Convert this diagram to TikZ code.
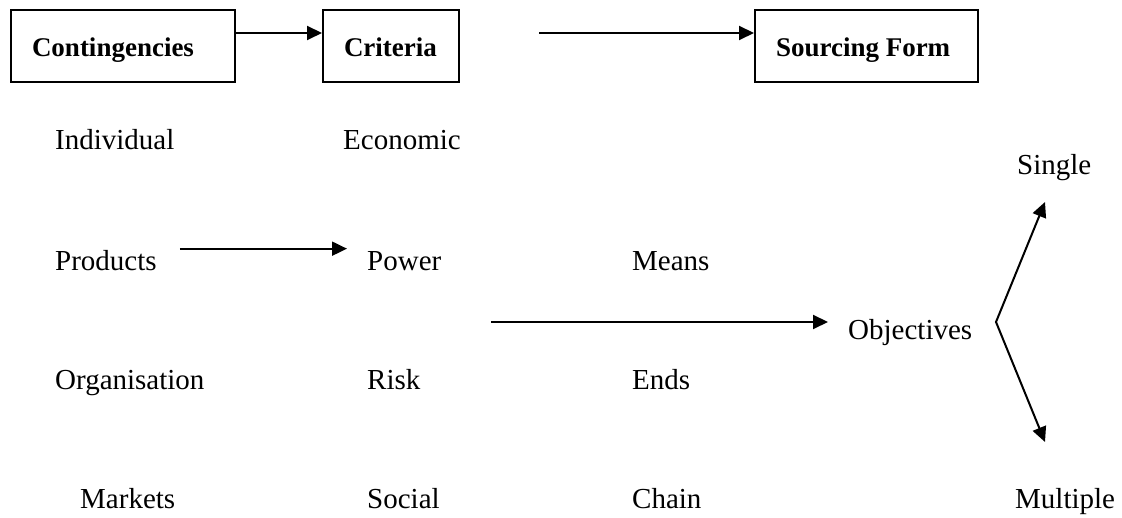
\documentclass[tikz,border=0pt]{standalone}
\usepackage{fontspec}
\setmainfont{Liberation Serif}
\usetikzlibrary{arrows.meta,positioning}
\tikzset{
	flow/.style={
		-{Triangle[length=15pt,width=14pt]},
		line width=2pt
	},
	fork/.style={
		{Triangle[length=15pt,width=14pt]}-{Triangle[length=15pt,width=14pt]},
		line width=2pt
	}
}
\newcommand{\stagetext}[2]{\makebox[#1][l]{#2}}
\begin{document}
\begin{tikzpicture}[x=1pt,y=-1pt]

	\useasboundingbox (0,0) rectangle (1122,518);

	\begin{scope}[
		stage/.style={draw, line width=2pt, minimum height=72pt, inner xsep=21pt,
			text height=22pt, text depth=0pt,
			font=\bfseries\fontsize{27}{32}\selectfont},
		item/.style={anchor=base west, inner sep=0, font=\fontsize{29}{34}\selectfont}
	]

		%% Stages
		\node[stage] (cont) at (123, 46) {\stagetext{182pt}{Contingencies}};
		\node[stage] (crit) at (391, 46) {\stagetext{94pt}{Criteria}};
		\node[stage] (src) at (866.5, 46) {\stagetext{181pt}{Sourcing Form}};

		%% Contingencies
		\node[item] (indiv) at (55, 150) {Individual};
		\node[item] (prod) at (55, 271) {Products};
		\node[item] (org) at (55, 390) {Organisation};
		\node[item] (mark) at (80, 508) {Markets};

		%% Criteria
		\node[item] (econ) at (343, 150) {Economic};
		\node[item] (pow) at (367, 271) {Power};
		\node[item] (risk) at (367, 390) {Risk};
		\node[item] (soc) at (367, 508) {Social};

		%% Objectives
		\node[item] (means) at (632, 271) {Means};
		\node[item] (ends) at (632, 390) {Ends};
		\node[item] (chain) at (632, 508) {Chain};
		\node[item] (obj) at (848, 340) {Objectives};

		%% Sourcing form
		\node[item] (single) at (1017, 175) {Single};
		\node[item] (multi) at (1015, 508) {Multiple};

		% Free ends
		\coordinate (critout) at (539, 33);
		\coordinate (riskout) at (491, 322);
		\coordinate (split) at (996, 322);
		\coordinate (up) at (1045, 202);
		\coordinate (down) at (1045, 442);

		% Connectors
		\draw[flow] ([yshift=13pt]cont.east) -- ([yshift=13pt]crit.west);
		\draw[flow] (critout) -- (critout -| src.west);
		\draw[flow] ([xshift=23pt,yshift=2pt]prod.north east) -- ([xshift=-20pt,yshift=2pt]prod.north east -| pow.west);
		\draw[flow] (riskout) -- ([xshift=-20pt]riskout -| obj.west);
		\draw[fork] (up) -- (split) -- (down);
	\end{scope}

\end{tikzpicture}
\end{document}
